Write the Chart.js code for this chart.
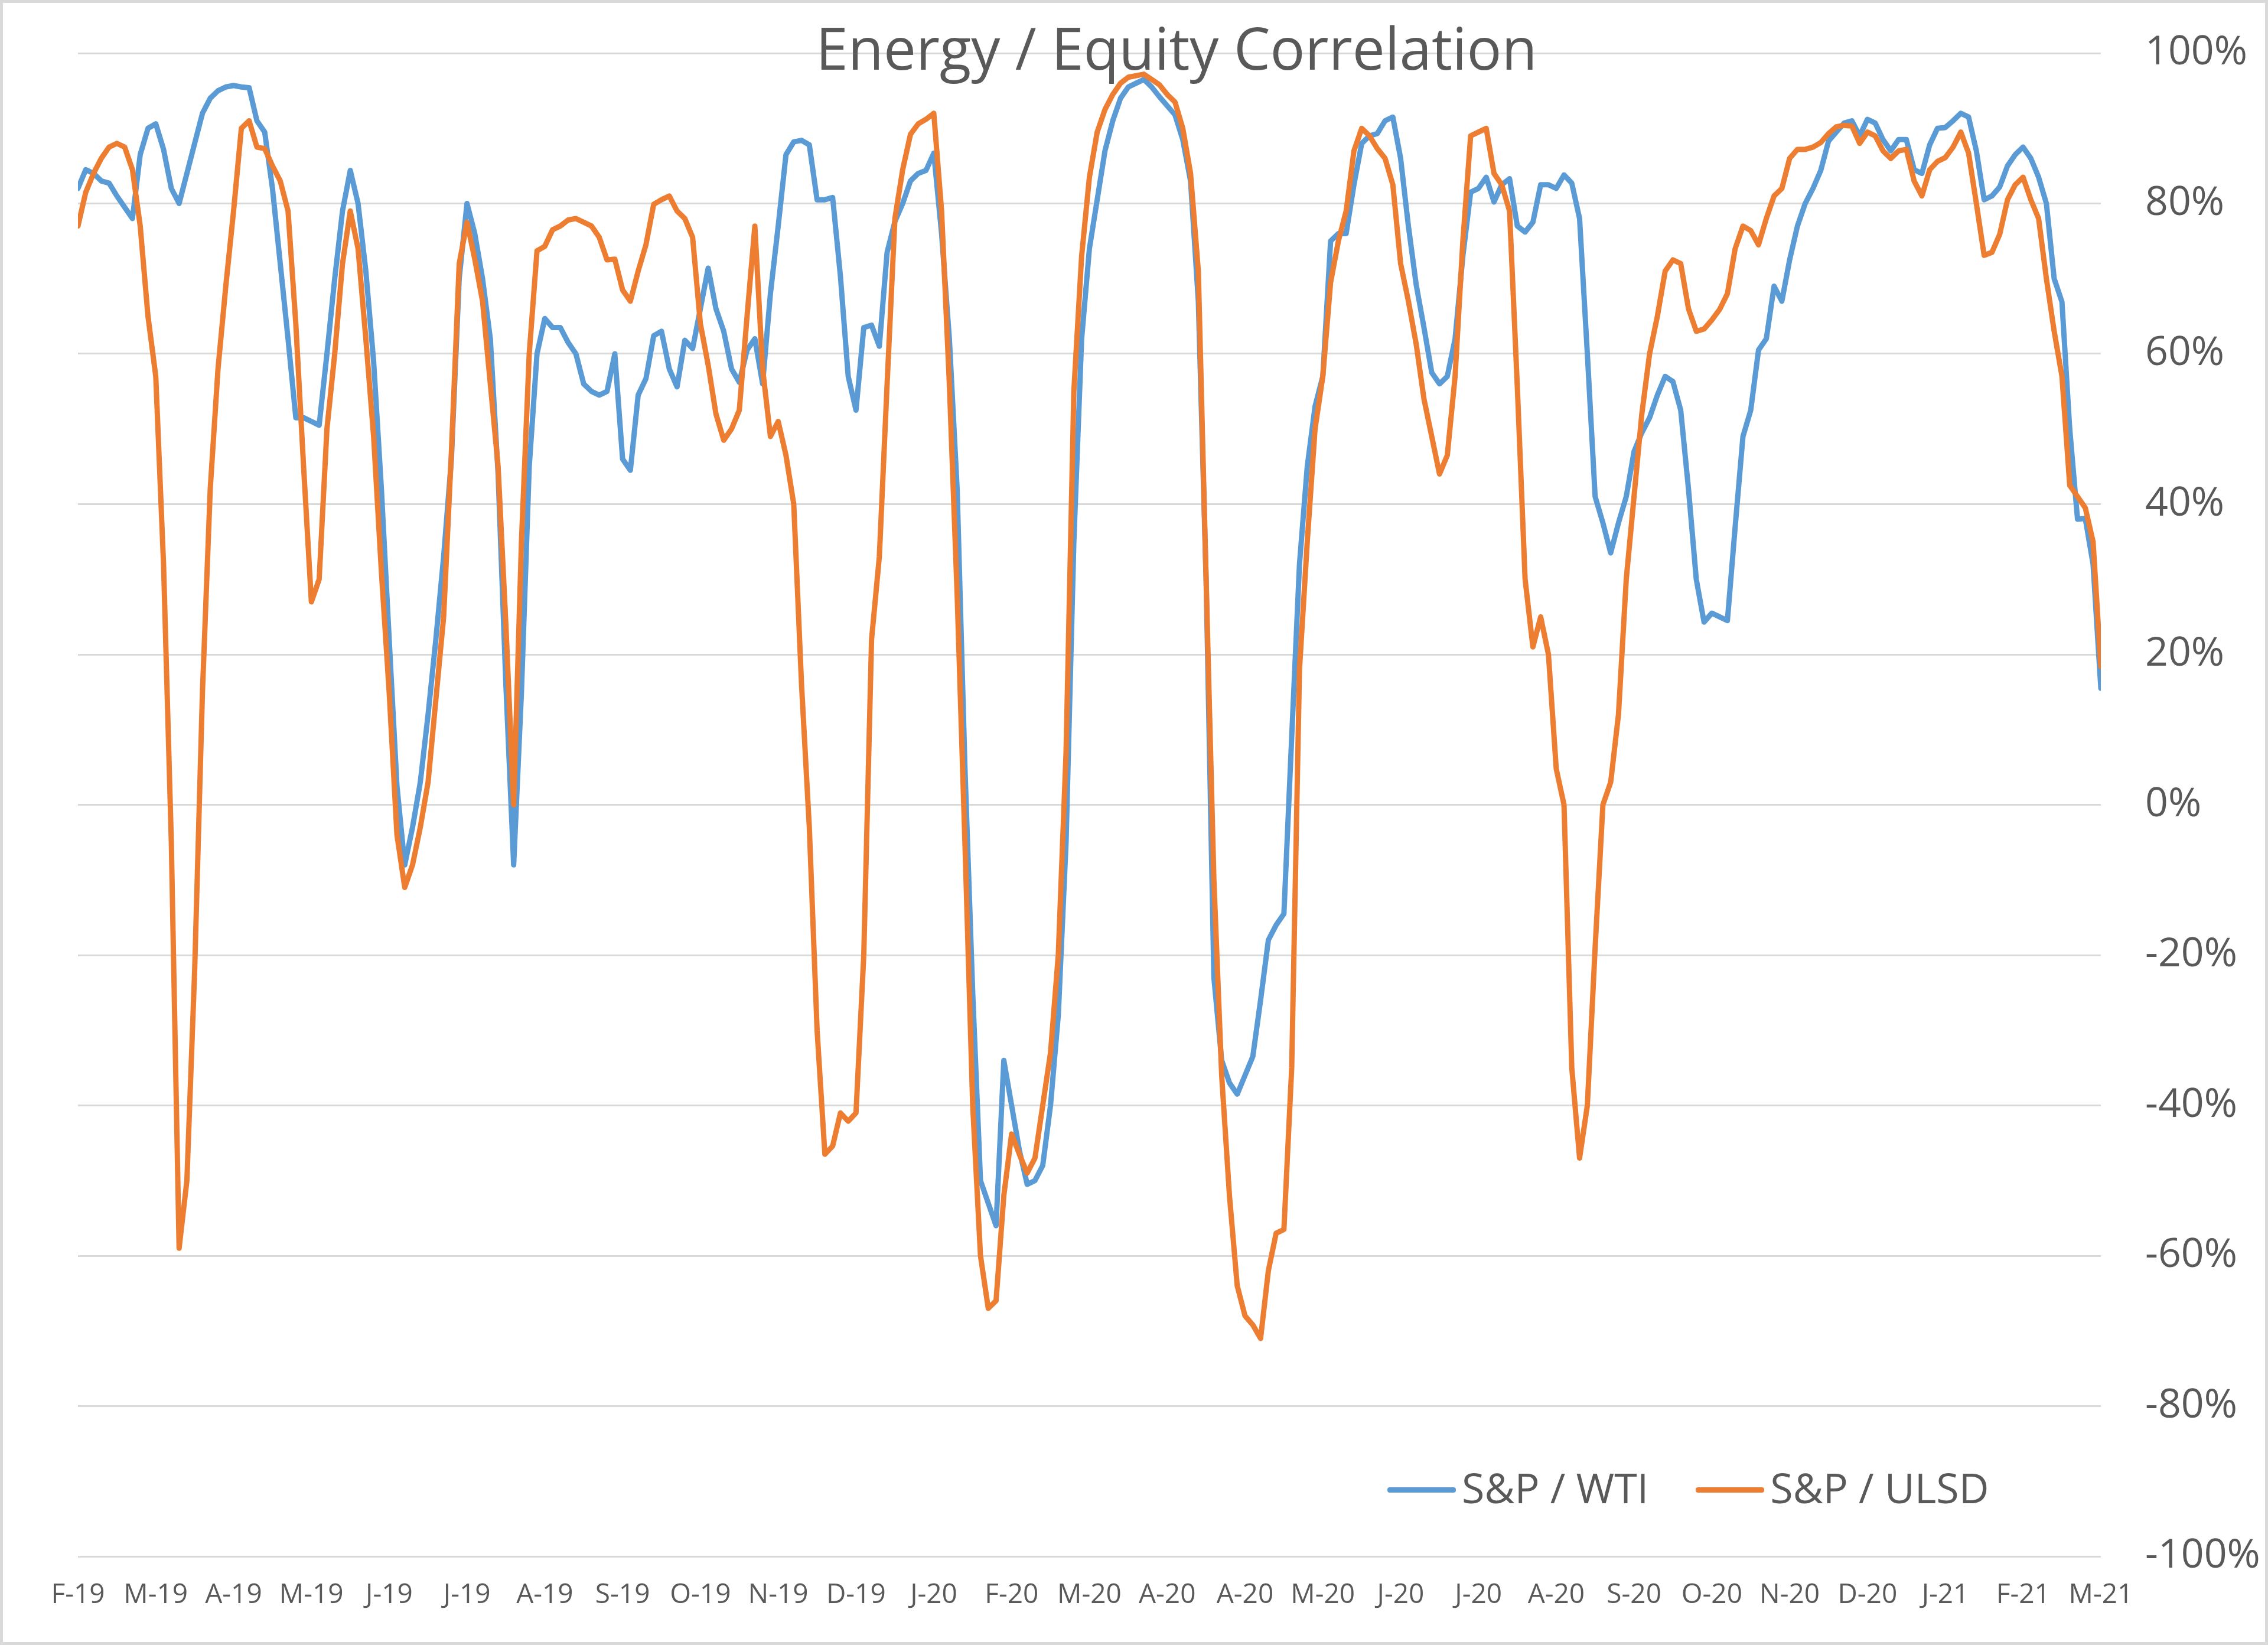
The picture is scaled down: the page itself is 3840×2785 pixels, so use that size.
<!DOCTYPE html>
<html lang="en">

<head>
    <meta charset="UTF-8">
    <title>Energy / Equity Correlation</title>
    <script src="https://cdn.jsdelivr.net/npm/chart.js"></script>
    <style>
        html,
        body {
            margin: 0;
            padding: 0;
            background: #fff;
        }

        #divGrafico {
            position: relative;
            width: 3840px;
            height: 2785px;
            font-family: 'Open Sans', 'Noto Sans', sans-serif;
            color: #595959;
        }

        /* moldura cinza do gráfico */
        #divMoldura {
            position: absolute;
            inset: 0;
            border: 5px solid #d9d9d9;
            pointer-events: none;
        }

        #tituloGrafico {
            position: absolute;
            left: 1992px;
            top: 31px;
            transform: translateX(-50%);
            font-size: 98px;
            line-height: 98px;
            white-space: nowrap;
        }

        #legendaGrafico {
            position: absolute;
            left: 2349px;
            top: 2483px;
            display: flex;
            align-items: center;
            font-size: 70px;
            line-height: 70px;
            white-space: nowrap;
        }

        .itemLegenda {
            display: flex;
            align-items: center;
            margin-right: 80px;
        }

        .linhaLegenda {
            display: inline-block;
            width: 116px;
            height: 9px;
            border-radius: 4px;
            margin-right: 10px;
            position: relative;
            top: 4px;
        }
    </style>
</head>

<body>

    <div id="divGrafico">
        <canvas id="canvasCorrelacao" width="3840" height="2785"></canvas>
        <div id="tituloGrafico">Energy / Equity Correlation</div>
        <div id="legendaGrafico">
            <div class="itemLegenda"><span class="linhaLegenda" style="background:#5b9bd5"></span>S&amp;P / WTI</div>
            <div class="itemLegenda"><span class="linhaLegenda" style="background:#ed7d31"></span>S&amp;P / ULSD</div>
        </div>
        <div id="divMoldura"></div>
    </div>

</body>

</html>

<script>
    // Rótulos do eixo X (um a cada 10 observações)
    const labelsMeses = ['F-19', 'M-19', 'A-19', 'M-19', 'J-19', 'J-19', 'A-19', 'S-19', 'O-19', 'N-19', 'D-19',
        'J-20', 'F-20', 'M-20', 'A-20', 'A-20', 'M-20', 'J-20', 'J-20', 'A-20', 'S-20', 'O-20', 'N-20', 'D-20',
        'J-21', 'F-21', 'M-21'];
    const passoRotulo = 10;

    // Correlação S&P / WTI (%)
    const spWti = [
        82, 84.5, 84, 83, 82.7, 81, 79.5, 78, 86.5, 90,
        90.6, 87.2, 82, 80, 84, 88, 92, 94, 95, 95.5,
        95.7, 95.5, 95.4, 91, 89.5, 82, 72, 62, 51.5, 51.5,
        51, 50.5, 60, 70, 79, 84.4, 80, 71, 59, 42,
        22, 2.5, -8, -3, 3, 12, 22, 33, 46, 70,
        80, 76, 70, 62, 44, 16, -8, 15, 45, 60,
        64.7, 63.5, 63.5, 61.5, 60, 56, 55, 54.5, 55, 60,
        46, 44.5, 54.5, 56.7, 62.4, 63, 58, 55.6, 61.8, 60.7,
        66, 71.4, 66, 63, 58, 56.2, 60.5, 62, 56, 68,
        77, 86.5, 88.2, 88.4, 87.8, 80.5, 80.5, 80.8, 70.3, 57,
        52.5, 63.5, 63.8, 61, 73.5, 77.6, 80, 83, 84, 84.4,
        86.7, 76, 62, 42, 5, -25, -50, -53, -56, -34,
        -40, -46, -50.5, -50, -48, -40, -28, -5, 35, 62,
        74, 80.5, 87, 91, 94, 95.5, 96, 96.5, 95.5, 94.2,
        93, 91.8, 88.5, 83, 67, 30, -23, -34, -37, -38.5,
        -36, -33.5, -26, -18, -16, -14.5, 9, 32, 45, 53,
        57, 75, 76, 76, 82.5, 88, 89, 89.3, 91, 91.5,
        86, 77, 69.2, 63.5, 57.5, 56, 57, 62, 73, 81.5,
        82, 83.5, 80.2, 82.5, 83.3, 77, 76.2, 77.5, 82.5, 82.5,
        82, 83.8, 82.7, 78, 60, 41, 37.5, 33.5, 37.5, 41,
        47, 49.5, 51.5, 54.5, 57, 56.3, 52.5, 42, 30, 24.3,
        25.5, 25, 24.5, 37, 49, 52.5, 60.5, 62, 69, 67,
        72.5, 77, 80, 82, 84.4, 88.3, 89.5, 90.7, 91, 89,
        91.2, 90.7, 88.5, 87, 88.5, 88.5, 84.5, 84, 87.8, 90,
        90.1, 91, 92, 91.5, 87, 80.5, 81, 82.2, 85, 86.5,
        87.5, 86, 83.5, 80, 70, 66.9, 50, 38, 38.1, 32,
        15.5
    ];

    // Correlação S&P / ULSD (%)
    const spUlsd = [
        77, 81.5, 84, 86, 87.5, 88, 87.5, 84.5, 77, 65,
        57, 32, -5, -59, -50, -22, 15, 42, 58, 69,
        79, 90, 91, 87.5, 87.3, 85, 83, 79, 64, 45,
        27, 30, 50, 60, 72, 79, 74, 62, 49, 31,
        15, -4, -11, -8, -3, 3, 14, 25, 47, 72,
        77.5, 72.6, 67, 56, 45, 24, 0, 35, 60, 73.7,
        74.3, 76.5, 77, 77.8, 78, 77.5, 77, 75.5, 72.5, 72.6,
        68.5, 67, 71, 74.5, 79.9, 80.5, 81, 79, 78, 75.5,
        64, 58.5, 52, 48.5, 50, 52.5, 65, 77, 58, 49,
        51, 46.5, 40, 16, -3, -30, -46.5, -45.4, -41, -42.1,
        -41, -20, 22, 33, 56, 78, 84.5, 89.2, 90.6, 91.2,
        92, 79, 56, 28, -5, -40, -60, -67, -66, -52,
        -43.8, -46.5, -49, -47, -40, -33, -20, 7, 55, 73,
        83.5, 89.5, 92.5, 94.5, 96, 96.8, 97, 97.2, 96.5, 95.8,
        94.5, 93.5, 90, 84, 71, 30, -10, -36, -52, -64,
        -68, -69.2, -71, -62, -57, -56.5, -35, 18, 35, 50,
        57, 69.5, 75, 79, 87, 90, 89, 87.3, 86, 82.5,
        72, 67, 61.3, 54, 49, 44, 46.5, 57, 75, 89,
        89.5, 90, 84, 82.5, 79, 55.6, 30, 21, 25, 20,
        4.8, 0, -35, -47, -40, -19, 0, 3, 12, 30,
        41, 52, 60, 65, 71, 72.5, 72, 66, 63, 63.3,
        64.5, 65.9, 68, 74, 77, 76.4, 74.5, 78, 81, 82,
        86, 87.2, 87.2, 87.5, 88.1, 89.3, 90.2, 90.4, 90.3, 88,
        89.5, 89, 87, 86, 87, 87.2, 83, 81, 84.5, 85.6,
        86.1, 87.5, 89.5, 86.7, 80, 73.1, 73.5, 75.9, 80.5, 82.5,
        83.5, 80.5, 78, 70, 63, 57, 42.5, 41, 39.5, 35,
        18.4
    ];

    const corTexto = '#595959';
    const fonteBase = "'Open Sans', 'Noto Sans', sans-serif";

    const dataCorrelacao = {
        datasets: [
            {
                label: 'S&P / WTI',
                data: spWti.map((v, i) => ({ x: i, y: v })),
                borderColor: '#5b9bd5',
                backgroundColor: '#5b9bd5',
                borderWidth: 9,
                pointRadius: 0,
                tension: 0,
                borderJoinStyle: 'round',
                borderCapStyle: 'round',
                order: 2
            },
            {
                label: 'S&P / ULSD',
                data: spUlsd.map((v, i) => ({ x: i, y: v })),
                borderColor: '#ed7d31',
                backgroundColor: '#ed7d31',
                borderWidth: 9,
                pointRadius: 0,
                tension: 0,
                borderJoinStyle: 'round',
                borderCapStyle: 'round',
                order: 1 // laranja desenhada por cima, como no Excel
            }
        ]
    };

    const configCorrelacao = {
        type: 'line',
        data: dataCorrelacao,
        options: {
            responsive: false,
            animation: false,
            layout: {
                padding: { left: 132, top: 90, right: 0, bottom: 0 }
            },
            plugins: {
                legend: { display: false },
                title: { display: false },
                tooltip: { enabled: false }
            },
            scales: {
                x: {
                    type: 'linear',
                    min: 0,
                    max: spWti.length - 1,
                    grid: { display: false },
                    border: { display: false },
                    afterFit: (scale) => { scale.height = 150; },
                    ticks: {
                        stepSize: passoRotulo,
                        maxTicksLimit: 100,
                        autoSkip: false,
                        maxRotation: 0,
                        padding: 30,
                        color: corTexto,
                        font: { size: 46, family: fonteBase },
                        callback: (value) => labelsMeses[Math.round(value / passoRotulo)]
                    }
                },
                y: {
                    position: 'right',
                    min: -100,
                    max: 100,
                    grid: {
                        color: '#d9d9d9',
                        lineWidth: 3,
                        // marca invisível só para afastar os rótulos do gráfico
                        drawTicks: true,
                        tickLength: 75,
                        tickColor: 'rgba(0,0,0,0)'
                    },
                    border: { display: false },
                    afterFit: (scale) => { scale.width = 283; },
                    ticks: {
                        stepSize: 20,
                        padding: 0,
                        color: corTexto,
                        font: { size: 68, family: fonteBase },
                        callback: (value) => value + '%'
                    }
                }
            }
        }
    };

    const graficoCorrelacao = new Chart(
        document.getElementById('canvasCorrelacao'),
        configCorrelacao
    );
</script>
